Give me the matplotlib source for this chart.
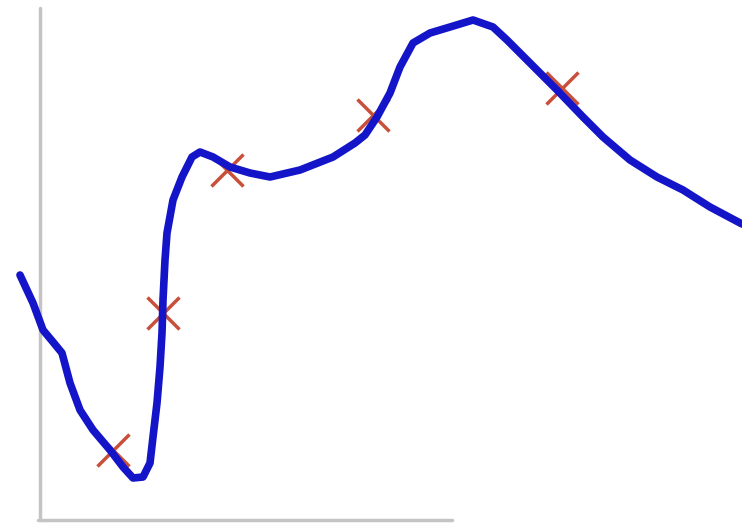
import matplotlib
matplotlib.use('Agg')
import matplotlib.pyplot as plt

# curve (pixel coords, y down)
curve_x = [20, 33, 43, 53, 62, 70, 80, 93, 110, 123, 133, 143, 150, 153, 157, 160,
           162, 163, 165, 167, 173, 182, 192, 200, 213, 230, 250, 270, 300, 333,
           355, 365, 377, 390, 400, 413, 430, 450, 473, 493, 507, 530, 557, 583,
           603, 630, 657, 683, 710, 742]
curve_y = [275, 303, 330, 342, 353, 383, 410, 430, 450, 467, 478, 477, 463, 437, 403, 367,
           333, 300, 260, 233, 200, 177, 157, 152, 157, 167, 173, 177, 170, 157,
           143, 135, 117, 93, 67, 43, 33, 27, 20, 27, 40, 63, 90, 117,
           137, 160, 177, 190, 207, 224]

# sample points (red crosses)
pts_x = [113, 163, 227, 373, 562]
pts_y = [450, 313, 170, 115, 88]

# hand-drawn axis lines
yaxis_x, yaxis_y = [40, 40], [8, 520]
xaxis_x, xaxis_y = [38, 452], [520, 520]


def main():
    fig = plt.figure(figsize=(7.42, 5.24), dpi=100)
    ax = fig.add_axes([0, 0, 1, 1])
    ax.set_xlim(0, 742)
    ax.set_ylim(524, 0)
    ax.axis('off')

    ax.plot(yaxis_x, yaxis_y, color='#c4c4c4', lw=2.5, solid_capstyle='round')
    ax.plot(xaxis_x, xaxis_y, color='#c4c4c4', lw=2.5, solid_capstyle='round')

    ax.plot(pts_x, pts_y, ls='none', marker='x', ms=23, mew=2.5, color='#c8503a', zorder=2)
    ax.plot(curve_x, curve_y, color='#1414c8', lw=5.5, solid_joinstyle='round',
            solid_capstyle='round', zorder=3)

    fig.savefig('out.png', dpi=100)


if __name__ == '__main__':
    main()
